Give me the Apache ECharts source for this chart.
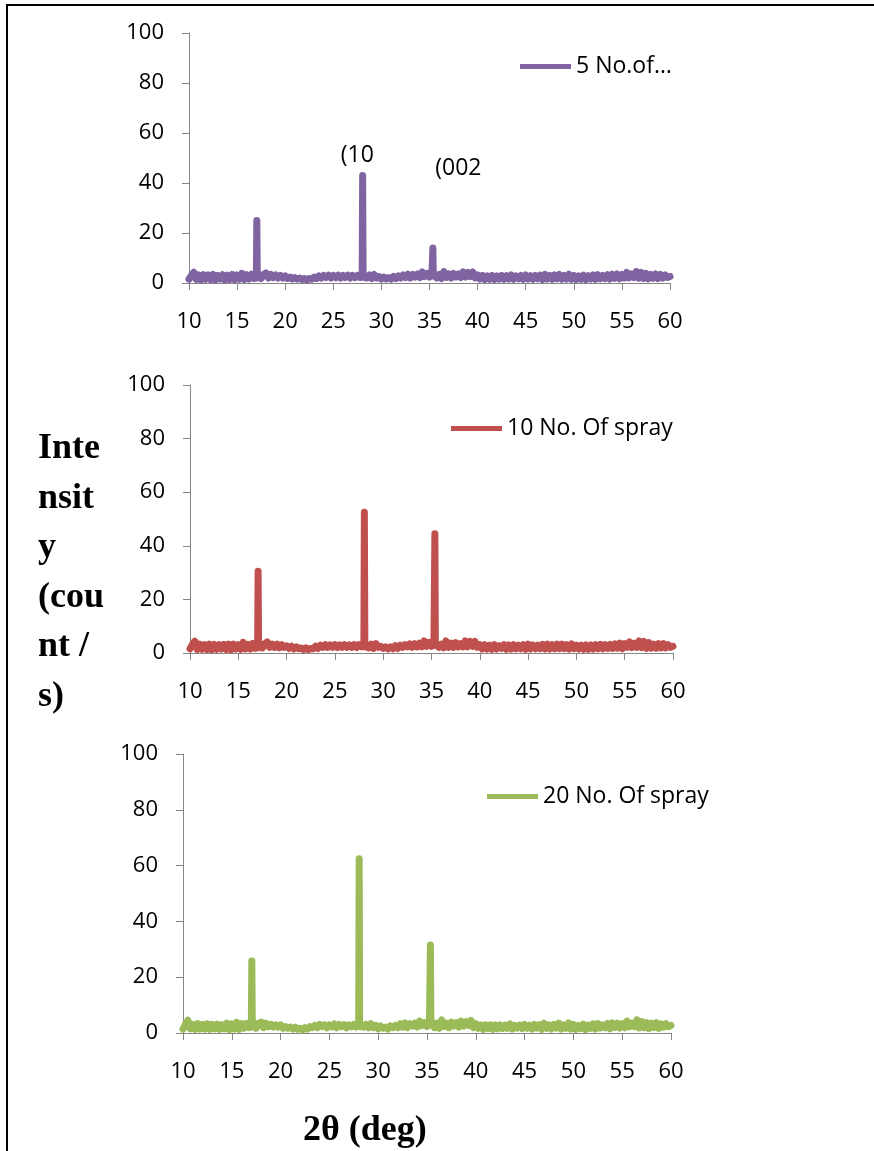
<!DOCTYPE html>
<html lang="en">
<head>
    <meta charset="UTF-8">
    <title>XRD</title>
    <script src="https://cdn.jsdelivr.net/npm/echarts@6/dist/echarts.min.js"></script>
    <style type="text/css">
        body { margin: 0; background: #fff; }
        #main { width: 874px; height: 1151px; }
        /* frame of the original figure: only left and top edges */
        .frame {
            position: absolute; left: 6px; top: 4px;
            width: 880px; height: 1160px;
            border-left: 2px solid #000; border-top: 2px solid #000;
            pointer-events: none;
        }
    </style>
</head>
<body>
<div id="main"></div>
<div class="frame"></div>
<script type="text/javascript">
    // 2θ positions (deg)
    var xs = [10,10.25,10.5,10.75,11,11.25,11.5,11.75,12,12.25,12.5,12.75,13,13.25,13.5,13.75,14,14.25,14.5,14.75,
        15,15.25,15.5,15.75,16,16.25,16.5,16.75,
        17,17.05,17.1,17.25,17.5,17.75,18,18.25,18.5,18.75,19,19.25,19.5,19.75,
        20,20.25,20.5,20.75,21,21.25,21.5,21.75,22,22.25,22.5,22.75,23,23.25,23.5,23.75,24,24.25,24.5,24.75,
        25,25.25,25.5,25.75,26,26.25,26.5,26.75,27,27.25,27.5,27.75,
        28,28.05,28.1,28.25,28.5,28.75,29,29.25,29.5,29.75,
        30,30.25,30.5,30.75,31,31.25,31.5,31.75,32,32.25,32.5,32.75,33,33.25,33.5,33.75,34,34.25,34.5,34.75,
        35,35.25,35.3,35.35,35.4,35.5,35.75,36,36.25,36.5,36.75,37,37.25,37.5,37.75,38,38.25,38.5,38.75,39,39.25,39.5,39.75,
        40,40.25,40.5,40.75,41,41.25,41.5,41.75,42,42.25,42.5,42.75,43,43.25,43.5,43.75,44,44.25,44.5,44.75,
        45,45.25,45.5,45.75,46,46.25,46.5,46.75,47,47.25,47.5,47.75,48,48.25,48.5,48.75,49,49.25,49.5,49.75,
        50,50.25,50.5,50.75,51,51.25,51.5,51.75,52,52.25,52.5,52.75,53,53.25,53.5,53.75,54,54.25,54.5,54.75,
        55,55.25,55.5,55.75,56,56.25,56.5,56.75,57,57.25,57.5,57.75,58,58.25,58.5,58.75,59,59.25,59.5,59.75,60];

    // intensity (count / s)
    var spray5 = [1.5,3.0,4.3,1.4,3.2,1.2,3.3,1.5,3.2,1.3,3.4,1.2,3.0,1.6,3.3,1.2,3.1,1.4,3.4,1.3,
        3.2,1.5,3.9,1.4,3.3,1.6,3.5,1.8,
        2.0,25,2.2,3.6,1.8,3.4,4.0,2.0,3.4,2.2,3.2,2.0,3.0,2.0,
        2.8,1.8,2.4,1.6,2.2,1.5,2.0,1.4,1.8,1.2,1.8,1.5,2.4,1.8,2.8,2.0,3.0,2.2,3.1,2.0,
        3.0,2.1,3.1,2.0,3.0,2.2,3.1,2.0,3.0,2.1,3.0,2.2,
        2.4,43,2.4,3.0,2.0,3.2,1.8,3.4,2.0,2.6,
        1.6,2.4,1.6,2.2,1.5,2.6,1.8,2.8,2.0,3.2,2.2,3.5,2.0,3.4,2.4,3.6,2.2,4.4,2.6,3.8,
        2.4,3.2,3.0,14,3.0,3.8,2.0,3.4,1.8,4.6,2.2,3.6,2.0,3.8,2.4,3.6,2.2,4.4,2.4,4.2,2.6,4.4,2.0,
        3.2,1.6,3.0,1.4,2.8,1.5,3.0,1.4,2.8,1.6,3.0,1.5,2.9,1.6,3.2,1.5,2.8,1.7,3.0,1.5,
        3.2,1.6,2.9,1.5,3.0,1.7,3.1,1.4,3.4,1.6,3.0,1.5,3.2,1.7,3.4,1.5,3.0,1.6,3.5,1.5,
        3.0,1.4,2.8,1.5,3.1,1.3,2.9,1.6,3.2,1.5,3.3,1.7,3.0,1.8,3.3,1.6,3.5,1.9,3.6,1.7,
        3.4,2.0,4.2,2.1,3.6,2.2,4.6,1.9,4.2,1.8,3.8,1.7,3.4,1.9,3.6,1.8,3.4,2.0,3.2,2.2,2.6];
    var spray10 = [1.6,3.2,4.4,1.3,3.3,1.4,3.1,1.3,3.3,1.2,3.2,1.4,3.1,1.5,3.2,1.3,3.3,1.2,3.3,1.5,
        3.1,1.4,4.0,1.5,3.2,1.5,3.6,1.7,
        1.9,30.5,2.3,3.5,1.9,3.5,4.1,2.1,3.3,2.1,3.3,1.9,3.1,2.1,
        2.7,1.7,2.5,1.5,2.3,1.6,1.9,1.3,1.9,1.3,1.7,1.6,2.5,1.7,2.9,2.1,3.1,2.1,3.0,2.1,
        3.1,2.0,3.0,2.1,3.1,2.1,3.0,2.1,3.1,2.0,3.1,2.3,
        2.3,52.5,2.5,3.1,1.9,3.3,1.7,3.5,2.1,2.5,
        1.7,2.3,1.5,2.3,1.6,2.7,1.7,2.9,2.1,3.1,2.3,3.4,2.1,3.5,2.3,3.7,2.3,4.5,2.5,3.9,
        2.5,3.1,3.1,44.5,3.1,3.7,2.1,3.3,1.9,4.5,2.1,3.7,2.1,3.9,2.3,3.5,2.3,4.5,2.3,4.3,2.5,4.3,2.1,
        3.1,1.5,3.1,1.5,2.9,1.4,3.1,1.5,2.7,1.7,3.1,1.4,3.0,1.5,3.1,1.6,2.9,1.6,3.1,1.4,
        3.3,1.5,3.0,1.6,2.9,1.6,3.2,1.5,3.3,1.5,3.1,1.6,3.3,1.6,3.3,1.6,3.1,1.5,3.4,1.6,
        2.9,1.5,2.9,1.4,3.0,1.4,3.0,1.5,3.1,1.6,3.2,1.6,3.1,1.7,3.2,1.7,3.4,1.8,3.7,1.6,
        3.5,2.1,4.1,2.0,3.7,2.1,4.5,2.0,4.3,1.7,3.9,1.8,3.3,1.8,3.5,1.9,3.5,1.9,3.1,2.1,2.5];
    var spray20 = [1.4,3.1,4.6,1.5,3.1,1.3,3.4,1.4,3.1,1.4,3.3,1.3,3.1,1.5,3.2,1.3,3.0,1.5,3.5,1.2,
        3.3,1.4,3.8,1.3,3.4,1.7,3.4,1.9,
        2.1,25.8,2.1,3.7,1.7,3.5,3.9,1.9,3.5,2.3,3.1,2.1,2.9,2.1,
        2.9,1.7,2.3,1.7,2.1,1.4,2.1,1.3,1.7,1.1,1.9,1.4,2.3,1.9,2.7,1.9,3.1,2.3,3.0,1.9,
        2.9,2.2,3.2,1.9,3.1,2.3,3.0,1.9,2.9,2.2,3.1,2.1,
        2.5,62.5,2.3,2.9,2.1,3.1,1.9,3.3,1.9,2.7,
        1.5,2.5,1.7,2.1,1.4,2.5,1.9,2.7,1.9,3.3,2.1,3.6,1.9,3.3,2.5,3.5,2.1,4.3,2.7,3.7,
        2.3,3.3,2.9,31.5,2.9,3.9,1.9,3.5,1.7,4.7,2.3,3.5,1.9,3.9,2.5,3.7,2.1,4.3,2.5,4.1,2.7,4.5,1.9,
        3.3,1.7,2.9,1.3,2.9,1.6,2.9,1.3,2.9,1.5,2.9,1.6,2.8,1.7,3.3,1.4,2.7,1.8,2.9,1.6,
        3.1,1.7,2.8,1.4,3.1,1.8,3.0,1.3,3.5,1.7,2.9,1.4,3.1,1.8,3.5,1.4,2.9,1.7,3.6,1.4,
        3.1,1.3,2.7,1.6,3.2,1.2,2.8,1.7,3.3,1.4,3.4,1.8,2.9,1.9,3.4,1.5,3.6,2.0,3.5,1.8,
        3.3,1.9,4.3,2.2,3.5,2.3,4.7,1.8,4.1,1.9,3.7,1.6,3.5,2.0,3.7,1.7,3.3,2.1,3.3,2.3,2.7];

    var names = ['5 No.of…', '10 No. Of spray', '20 No. Of spray'];
    var colors = ['#8064A2', '#C0504D', '#9BBB59'];
    // peak labels on the first pattern: [2θ, intensity, text]
    var peakLabels = [[27.5, 51, '(10'], [38.0, 46, '(002']];

    function pairs(ys) {
        if (ys.length !== xs.length) throw new Error('length ' + ys.length + ' vs ' + xs.length);
        var out = [];
        for (var i = 0; i < xs.length; i++) out.push([xs[i], ys[i]]);
        return out;
    }

    var font = '"Open Sans", sans-serif';
    var grids = [
        {left: 189, top: 33, width: 481, height: 250},
        {left: 190, top: 385, width: 483, height: 268},
        {left: 183, top: 754, width: 488, height: 279}
    ];
    var legendPos = [[520, 55], [451, 417], [487, 785]];

    var xAxes = [], yAxes = [], legends = [];
    for (var g = 0; g < 3; g++) {
        xAxes.push({
            gridIndex: g, type: 'value', min: 10, max: 60, interval: 5,
            axisLine: {lineStyle: {color: '#868686', width: 1}},
            axisTick: {show: true, length: 7, lineStyle: {color: '#868686'}},
            splitLine: {show: false},
            axisLabel: {color: '#000', fontSize: 22, fontFamily: font, margin: 28}
        });
        yAxes.push({
            gridIndex: g, type: 'value', min: 0, max: 100, interval: 20,
            axisLine: {show: true, lineStyle: {color: '#868686', width: 1}},
            axisTick: {show: true, length: 7, lineStyle: {color: '#868686'}},
            splitLine: {show: false},
            axisLabel: {color: '#000', fontSize: 22, fontFamily: font, margin: 25}
        });
        legends.push({
            data: [names[g]], left: legendPos[g][0], top: legendPos[g][1], padding: 0,
            icon: 'rect', itemWidth: 51, itemHeight: 5,
            textStyle: {color: '#000', fontSize: 23, fontFamily: font}
        });
    }

    var seriesData = [spray5, spray10, spray20];
    var series = [];
    for (var s = 0; s < 3; s++) {
        series.push({
            name: names[s], type: 'line',
            xAxisIndex: s, yAxisIndex: s,
            data: pairs(seriesData[s]),
            showSymbol: false, symbol: 'none',
            color: colors[s],
            lineStyle: {width: 7, color: colors[s], join: 'round', cap: 'round'}
        });
    }
    series[0].markPoint = {
        symbol: 'circle', symbolSize: 0,
        label: {show: true, position: 'inside', formatter: '{b}', color: '#000', fontSize: 23, fontFamily: font},
        data: peakLabels.map(function (p) { return {coord: [p[0], p[1]], name: p[2]}; })
    };

    var myChart = echarts.init(document.getElementById('main'));
    var option = {
        animation: false,
        backgroundColor: '#fff',
        title: [
            {
                text: 'Inte\nnsit\ny\n(cou\nnt /\ns)', left: 33, top: 419,
                textStyle: {fontFamily: '"Liberation Serif", serif', fontWeight: 'bold', fontSize: 36, lineHeight: 49.5, color: '#000'}
            },
            {
                text: '2θ (deg)', left: 298, top: 1108,
                textStyle: {fontFamily: '"Liberation Serif", serif', fontWeight: 'bold', fontSize: 36, color: '#000'}
            }
        ],
        legend: legends,
        grid: grids,
        xAxis: xAxes,
        yAxis: yAxes,
        series: series
    };
    myChart.setOption(option);
</script>
</body>
</html>
